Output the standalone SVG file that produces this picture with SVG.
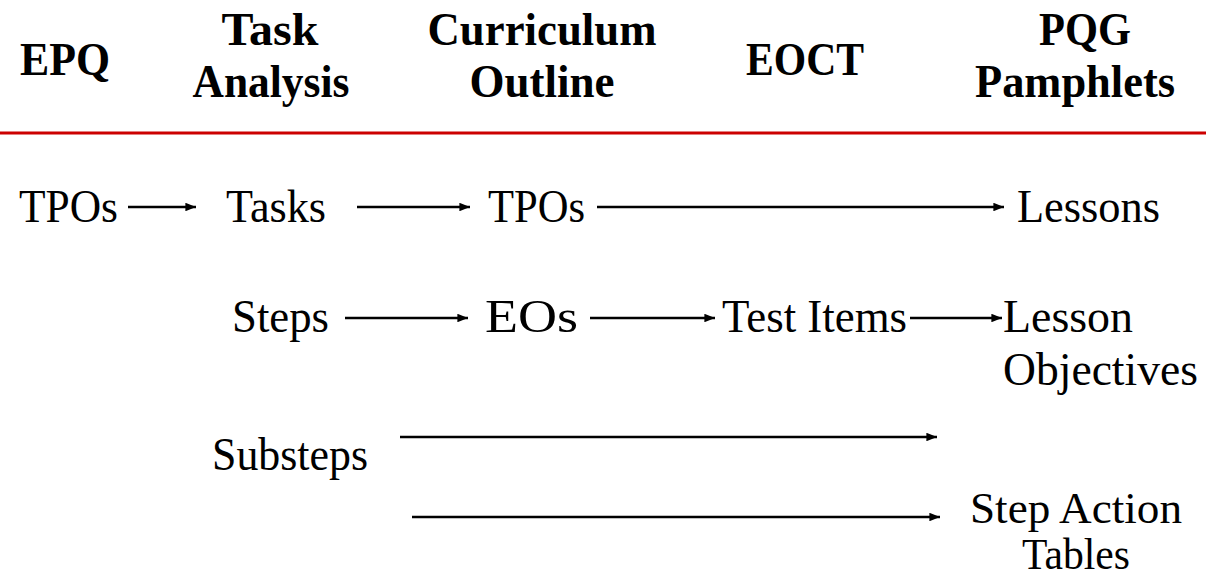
<svg xmlns="http://www.w3.org/2000/svg" width="1206" height="578" viewBox="0 0 1206 578">
<style>
text{font-family:"Liberation Serif","Times New Roman",serif;fill:#000}
.h{font-weight:bold;font-size:46px;text-anchor:middle}
.t{font-size:46px}
.s{font-size:44px}
.c{stroke:#000;stroke-width:2.5;fill:none;marker-end:url(#ah)}
</style>
<defs>
<marker id="ah" viewBox="0 0 10 8" refX="10" refY="4" markerWidth="4.4" markerHeight="3.4" markerUnits="strokeWidth" orient="auto">
<path d="M0,0 L10,4 L0,8 z" fill="#000"/>
</marker>
</defs>
<rect width="1206" height="578" fill="#fff"/>
<g id="headers">
<text class="h" x="65" y="75" textLength="90" lengthAdjust="spacingAndGlyphs">EPQ</text>
<text class="h" x="270" y="45" textLength="97" lengthAdjust="spacingAndGlyphs">Task</text>
<text class="h" x="271" y="97" textLength="157" lengthAdjust="spacingAndGlyphs">Analysis</text>
<text class="h" x="542" y="45" textLength="229" lengthAdjust="spacingAndGlyphs">Curriculum</text>
<text class="h" x="542" y="97" textLength="145" lengthAdjust="spacingAndGlyphs">Outline</text>
<text class="h" x="805" y="75" textLength="118" lengthAdjust="spacingAndGlyphs">EOCT</text>
<text class="h" x="1085" y="45" textLength="92" lengthAdjust="spacingAndGlyphs">PQG</text>
<text class="h" x="1075" y="97" textLength="200" lengthAdjust="spacingAndGlyphs">Pamphlets</text>
</g>
<line x1="0" y1="133" x2="1206" y2="133" stroke="#cc0000" stroke-width="3"/>
<g id="n-tpos1"><text class="t" x="19" y="222" textLength="99" lengthAdjust="spacingAndGlyphs">TPOs</text></g>
<g id="n-tasks"><text class="t" x="226" y="222" textLength="100" lengthAdjust="spacingAndGlyphs">Tasks</text></g>
<g id="n-tpos2"><text class="t" x="488" y="222" textLength="97" lengthAdjust="spacingAndGlyphs">TPOs</text></g>
<g id="n-lessons"><text class="t" x="1017" y="222" textLength="143" lengthAdjust="spacingAndGlyphs">Lessons</text></g>
<g id="n-steps"><text class="t" x="232" y="332" textLength="97" lengthAdjust="spacingAndGlyphs">Steps</text></g>
<g id="n-eos"><text class="t" x="485" y="332" textLength="93" lengthAdjust="spacingAndGlyphs">EOs</text></g>
<g id="n-testitems"><text class="t" x="722" y="332" textLength="185" lengthAdjust="spacingAndGlyphs">Test Items</text></g>
<g id="n-lessonobj"><text class="t" x="1003" y="332" textLength="130" lengthAdjust="spacingAndGlyphs">Lesson</text><text class="t" x="1003" y="385" textLength="195" lengthAdjust="spacingAndGlyphs">Objectives</text></g>
<g id="n-substeps"><text class="t" x="212" y="470" textLength="156" lengthAdjust="spacingAndGlyphs">Substeps</text></g>
<g id="n-sat"><text class="s" x="970" y="523" textLength="212" lengthAdjust="spacingAndGlyphs">Step Action</text><text class="s" x="1022" y="569" textLength="108" lengthAdjust="spacingAndGlyphs">Tables</text></g>
<g id="connectors">
<line class="c" x1="128" y1="207" x2="196" y2="207"/>
<line class="c" x1="357" y1="207" x2="470" y2="207"/>
<line class="c" x1="597" y1="207" x2="1004" y2="207"/>
<line class="c" x1="345" y1="318" x2="468" y2="318"/>
<line class="c" x1="590" y1="318" x2="715" y2="318"/>
<line class="c" x1="910" y1="318" x2="1002" y2="318"/>
<line class="c" x1="400" y1="437" x2="937" y2="437"/>
<line class="c" x1="412" y1="517" x2="940" y2="517"/>
</g>
</svg>
